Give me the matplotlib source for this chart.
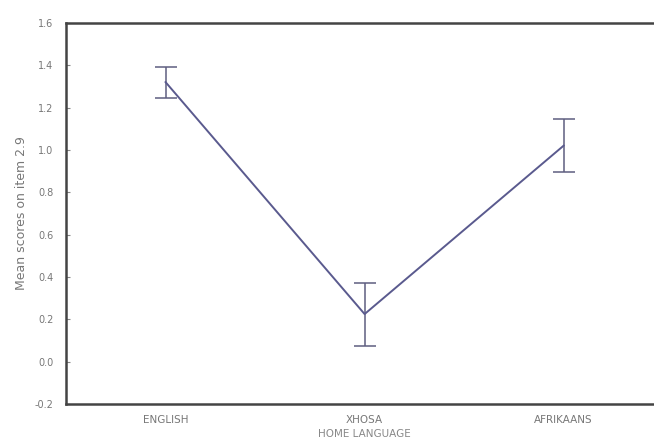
import matplotlib.pyplot as plt

# Mean item score by home language, with error bar limits
languages = ['ENGLISH', 'XHOSA', 'AFRIKAANS']
means = [1.32, 0.225, 1.02]
lower = [1.245, 0.075, 0.895]
upper = [1.39, 0.37, 1.145]

y_ticks = [-0.2, 0.0, 0.2, 0.4, 0.6, 0.8, 1.0, 1.2, 1.4, 1.6]

fig = plt.figure(figsize=(6.54, 4.47), dpi=100)
ax = fig.add_axes([0.101, 0.096, 0.913, 0.853])

x = list(range(len(languages)))
err = [[m - lo for m, lo in zip(means, lower)],
       [hi - m for m, hi in zip(means, upper)]]

ax.plot(x, means, color='#5a5a8e', lw=1.4, zorder=3)
ax.errorbar(x, means, yerr=err, fmt='none', ecolor='#5e5e80',
            elinewidth=1.1, capsize=8, capthick=1.1, zorder=2)

ax.set_xlim(-0.5, 2.5)
ax.set_ylim(-0.2, 1.6)
ax.set_yticks(y_ticks)
ax.set_yticklabels([f'{v:.1f}' for v in y_ticks])
ax.set_xticks(x)
ax.set_xticklabels(languages)

for side in ['left', 'top', 'bottom']:
    ax.spines[side].set_color('#444444')
    ax.spines[side].set_linewidth(1.8)
ax.spines['right'].set_visible(False)

ax.tick_params(axis='y', direction='in', length=3, color='#888888',
               labelsize=7, labelcolor='#777777', pad=9)
ax.tick_params(axis='x', length=0, labelsize=7.5, labelcolor='#777777', pad=8)

ax.set_ylabel('Mean scores on item 2.9', fontsize=9, color='#777777', labelpad=5)
ax.set_xlabel('HOME LANGUAGE', fontsize=7.5, color='#888888', labelpad=3)

fig.savefig('out.png', dpi=100)
